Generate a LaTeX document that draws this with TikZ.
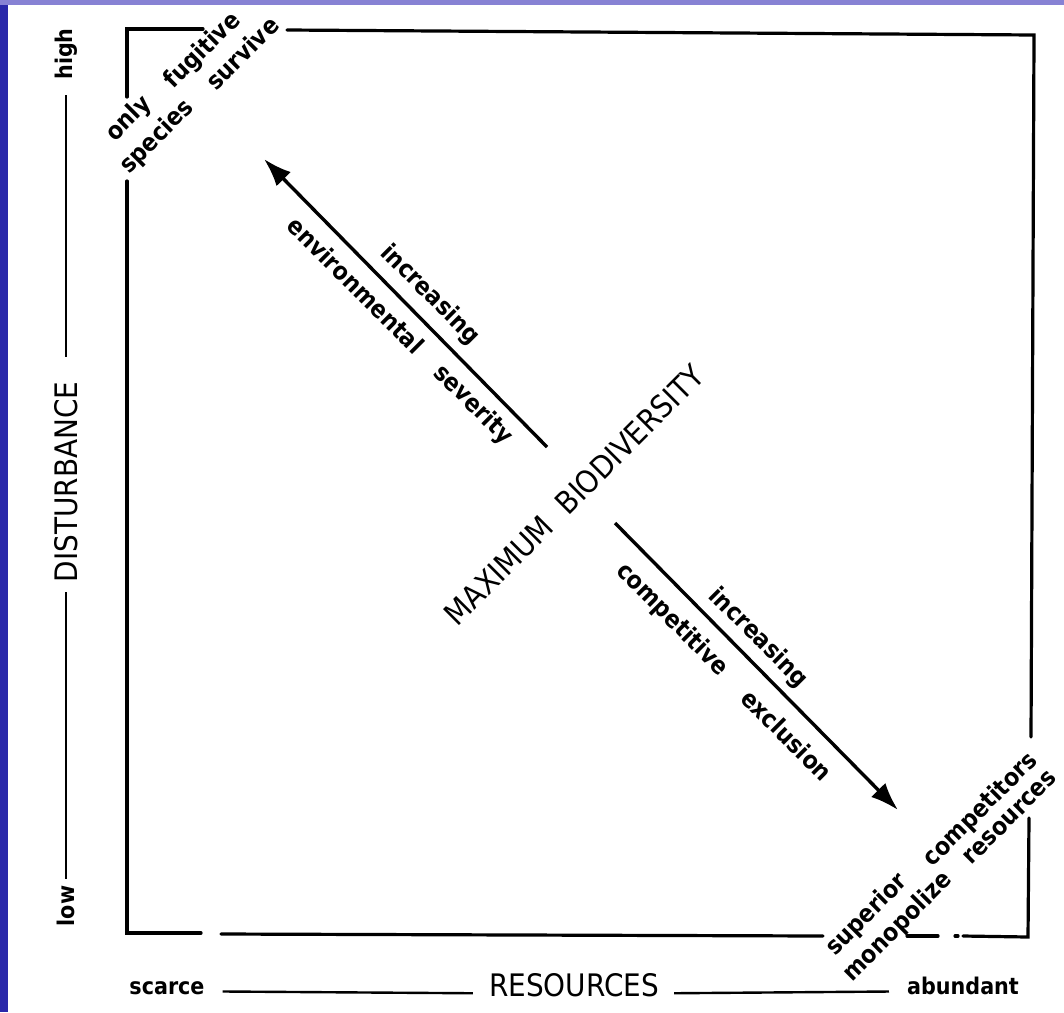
\documentclass[tikz,border=0pt]{standalone}
\usepackage{fontspec}
\setmainfont{Liberation Sans}
\newfontfamily\labelfont{DejaVu Sans Condensed}
\newfontfamily\capsfont{DejaVu Sans Condensed}
\usepackage{tikz}
\usetikzlibrary{arrows.meta,positioning,calc}
\definecolor{slideblue}{RGB}{42,40,170}
\definecolor{slidelav}{RGB}{135,130,212}

\begin{document}
\begin{tikzpicture}[
    x=1pt, y=-1pt,
    word/.style={inner sep=0pt, font=\labelfont\bfseries\fontsize{24.5}{26}\selectfont},
    axisword/.style={inner sep=0pt, font=\labelfont\bfseries\fontsize{23}{25}\selectfont},
    caps/.style={inner sep=0pt, font=\capsfont\fontsize{31}{33}\selectfont},
    frame/.style={draw, line width=3.2pt, line cap=round},
    axis/.style={draw, line width=2.4pt},
    line/.style={draw, line width=3.4pt, -{Latex[length=28pt,width=20pt]}}
]
    \useasboundingbox (0,0) rectangle (1064,1012);
    \fill[white] (0,0) rectangle (1064,1012);
    \fill[slideblue] (0,0) rectangle (8,1012);
    \fill[slidelav] (0,0) rectangle (1064,5);

    % frame, broken where the corner texts cross it
    \draw[frame] (127,97) -- (127,29) -- (203,29);
    \draw[frame] (287,30) -- (1034,35) -- (1031,737);
    \draw[frame] (1029,818) -- (1028,937) -- (963,936);
    \draw[frame] (958,936) -- (955,936);
    \draw[frame] (938,936) -- (907,936);
    \draw[frame] (823,936) -- (221,934);
    \draw[frame] (201,933) -- (127,933) -- (127,181);

    % disturbance axis
    \node [axisword, rotate=90] (high) at (66,54)  {high};
    \node [caps, rotate=90]     (dist) at (66,482) {DISTURBANCE};
    \node [axisword, rotate=90] (low)  at (66,906) {low};
    \path [axis, shorten <=7pt, shorten >=10pt]  (low)  -- (dist);
    \path [axis, shorten <=25pt, shorten >=15pt] (dist) -- (high);

    % resources axis
    \node [axisword, anchor=base] (scarce) at (167,994) {scarce};
    \node [caps, anchor=base]     (res)    at (574,996) {RESOURCES};
    \node [axisword, anchor=base] (abund)  at (963,994) {abundant};
    \path [axis, shorten <=18pt, shorten >=16pt] (scarce.mid east) -- (res.mid west);
    \path [axis, shorten <=15pt, shorten >=18pt] (res.mid east) -- (abund.mid west);

    % corners
    \node [word, rotate=45] (only)     at (129,119) {only};
    \node [word, rotate=45] (fugitive) at (203,51)  {fugitive};
    \node [word, rotate=45] (species)  at (157,137) {species};
    \node [word, rotate=45] (survive)  at (242,53)  {survive};

    \node [word, rotate=45] (superior)    at (867,915)  {superior};
    \node [word, rotate=45] (competitors) at (981,810)  {competitors};
    \node [word, rotate=45] (monopolize)  at (898,927)  {monopolize};
    \node [word, rotate=45] (resources)   at (1010,818) {resources};

    % centre
    \node [caps, rotate=45] (maxbio) at (574,495) {MAXIMUM\hspace{18pt}BIODIVERSITY};

    \coordinate (sev0) at (547,447);
    \coordinate (sev1) at (264,159);
    \coordinate (exc0) at (615,523);
    \coordinate (exc1) at (898,810);
    \path [line] (sev0) -- (sev1);
    \path [line] (exc0) -- (exc1);

    \node [word, rotate=-45] (inc1) at (430,295) {increasing};
    \node [word, rotate=-45] (env)  at (356,285) {environmental};
    \node [word, rotate=-45] (sev)  at (473,405) {severity};
    \node [word, rotate=-45] (inc2) at (758,638) {increasing};
    \node [word, rotate=-45] (comp) at (672,620) {competitive};
    \node [word, rotate=-45] (excl) at (787,735) {exclusion};
\end{tikzpicture}
\end{document}
